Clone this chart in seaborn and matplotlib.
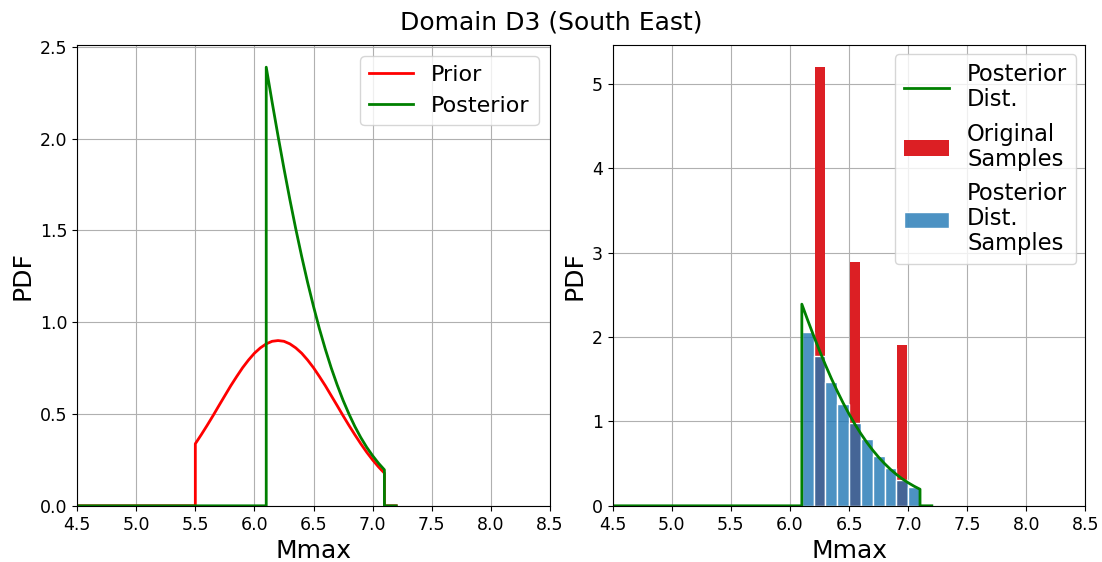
import numpy as np
import pandas as pd
import matplotlib
matplotlib.use("Agg")
import matplotlib.pyplot as plt
import seaborn as sns

# ---------------- data ----------------
title = "Domain D3 (South East)"
x_range = [4.5, 7.2]          # extent of the evaluated Mmax grid

prior_x = [5.50, 5.55, 5.60, 5.65, 5.70, 5.75, 5.80, 5.85, 5.90, 5.95,
           6.00, 6.05, 6.10, 6.15, 6.20, 6.25, 6.30, 6.35, 6.40, 6.45,
           6.50, 6.55, 6.60, 6.65, 6.70, 6.75, 6.80, 6.85, 6.90, 6.95,
           7.00, 7.05, 7.10]
prior_pdf = [0.338, 0.387, 0.438, 0.491, 0.546, 0.600, 0.654, 0.704, 0.752, 0.794,
             0.831, 0.860, 0.882, 0.896, 0.900, 0.896, 0.882, 0.860, 0.831, 0.794,
             0.752, 0.704, 0.654, 0.600, 0.546, 0.491, 0.438, 0.387, 0.338, 0.292,
             0.250, 0.212, 0.178]

post_x = [6.10, 6.15, 6.20, 6.25, 6.30, 6.35, 6.40, 6.45, 6.50, 6.55,
          6.60, 6.65, 6.70, 6.75, 6.80, 6.85, 6.90, 6.95, 7.00, 7.05, 7.10]
post_pdf = [2.389, 2.198, 2.014, 1.837, 1.668, 1.508, 1.358, 1.217, 1.086, 0.964,
            0.853, 0.751, 0.659, 0.575, 0.500, 0.432, 0.372, 0.319, 0.273, 0.232, 0.196]

bin_edges = [6.1, 6.2, 6.3, 6.4, 6.5, 6.6, 6.7, 6.8, 6.9, 7.0, 7.1]
orig_density = [0.0, 5.20, 0.0, 0.0, 2.89, 0.0, 0.0, 0.0, 1.90, 0.0]
post_sample_density = [2.06, 1.78, 1.47, 1.21, 0.98, 0.79, 0.59, 0.445, 0.307, 0.22]

x_ticks = [4.5, 5.0, 5.5, 6.0, 6.5, 7.0, 7.5, 8.0, 8.5]


def support_curve(xs, ys):
    """Full curve on the grid: zero outside the support, with vertical edges."""
    fx = [x_range[0], xs[0]] + list(xs) + [xs[-1], x_range[1]]
    fy = [0.0, 0.0] + list(ys) + [0.0, 0.0]
    return pd.DataFrame({"Mmax": fx, "PDF": fy})


prior_df = support_curve(prior_x, prior_pdf)
post_df = support_curve(post_x, post_pdf)
centers = [(a + b) / 2 for a, b in zip(bin_edges[:-1], bin_edges[1:])]

# ---------------- figure ----------------
plt.rcParams["font.family"] = ["DejaVu Sans"]
fig, (ax1, ax2) = plt.subplots(1, 2, figsize=(11.02, 5.62), dpi=100)
fig.subplots_adjust(left=0.07, right=0.985, bottom=0.1, top=0.92, wspace=0.133)

RED_LINE = "#ff0000"
GREEN = "#008000"

# Left panel
sns.lineplot(data=prior_df, x="Mmax", y="PDF", sort=False, estimator=None,
             color=RED_LINE, lw=2, label="Prior", ax=ax1)
sns.lineplot(data=post_df, x="Mmax", y="PDF", sort=False, estimator=None,
             color=GREEN, lw=2, label="Posterior", ax=ax1)
ax1.set_xlim(4.5, 8.5)
ax1.set_ylim(0, 2.51)
ax1.set_xticks(x_ticks)
ax1.set_yticks([0.0, 0.5, 1.0, 1.5, 2.0, 2.5])
ax1.grid(True, color="#b0b0b0", lw=0.8)
ax1.set_axisbelow(True)
ax1.set_xlabel("Mmax", fontsize=18)
ax1.set_ylabel("PDF", fontsize=18)
ax1.tick_params(labelsize=12.5)
ax1.legend(loc="upper right", fontsize=16)

# Right panel
sns.histplot(x=centers, weights=orig_density, bins=bin_edges, stat="count",
             shrink=0.85, color="#dc1f24", alpha=1.0, edgecolor="none",
             label="Original\nSamples", ax=ax2)
sns.histplot(x=centers, weights=post_sample_density, bins=bin_edges, stat="count",
             color="#1f77b4", alpha=0.8, edgecolor="white", linewidth=1,
             label="Posterior\nDist.\nSamples", ax=ax2)
sns.lineplot(data=post_df, x="Mmax", y="PDF", sort=False, estimator=None,
             color=GREEN, lw=2, label="Posterior\nDist.", ax=ax2)
ax2.set_xlim(4.5, 8.5)
ax2.set_ylim(0, 5.46)
ax2.set_xticks(x_ticks)
ax2.set_yticks([0, 1, 2, 3, 4, 5])
ax2.grid(True, color="#b0b0b0", lw=0.8)
ax2.set_axisbelow(True)
ax2.set_xlabel("Mmax", fontsize=18)
ax2.set_ylabel("PDF", fontsize=18)
ax2.tick_params(labelsize=12.5)
h, l = ax2.get_legend_handles_labels()
order = [l.index("Posterior\nDist."), l.index("Original\nSamples"),
         l.index("Posterior\nDist.\nSamples")]
leg = ax2.legend([h[i] for i in order], [l[i] for i in order],
                 loc="upper right", fontsize=16.3, labelspacing=0.5,
                 handlelength=2.0, borderaxespad=0.4)
for t in leg.get_texts():
    t.set_linespacing(1.12)

fig.suptitle(title, fontsize=18, y=0.982)

fig.savefig("out.png", dpi=100)
